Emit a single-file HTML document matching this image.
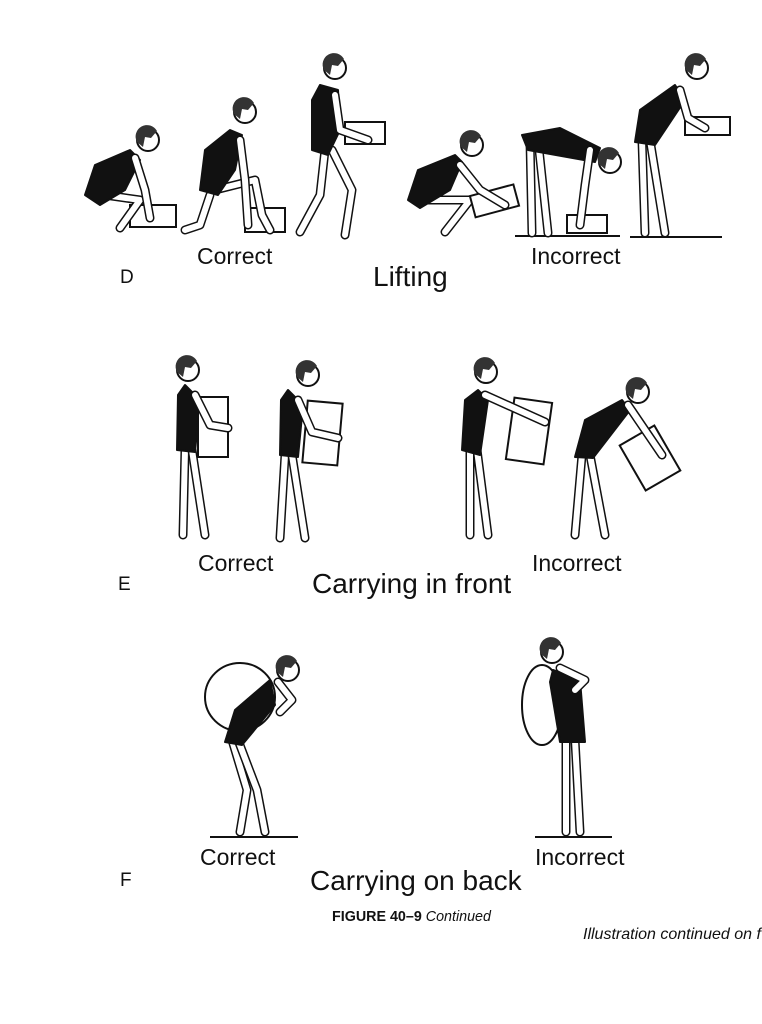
<!DOCTYPE html>
<html><head><meta charset="utf-8"><style>
html,body{margin:0;padding:0;background:#fff;}
body{width:762px;height:1024px;position:relative;overflow:hidden;font-family:"Liberation Sans",sans-serif;color:#111;}
.t{position:absolute;white-space:nowrap;line-height:1;}
svg{position:absolute;left:0;top:0;}
.lo{fill:none;stroke:#111;stroke-width:9;stroke-linecap:round;stroke-linejoin:round;}
.li{fill:none;stroke:#fff;stroke-width:6;stroke-linecap:round;stroke-linejoin:round;}
.tor{fill:#111;stroke:#111;stroke-width:2;stroke-linejoin:round;}
.hd{fill:#fff;stroke:#111;stroke-width:2;}
.hr{fill:#333;}
.bx{fill:#fff;stroke:#111;stroke-width:2;}
.fl{stroke:#111;stroke-width:2;}
</style></head><body>
<svg width="762" height="1024" viewBox="0 0 762 1024">
<defs>
<g id="h"><circle class="hd" r="11"/><path class="hr" d="M-11,2 A11,11 0 0 1 9,-9 L3,-2 L-3,-3 L-5,7 Z"/></g>
</defs>
<!-- D1 -->
<rect class="bx" x="130" y="205" width="46" height="22"/>
<path class="lo" d="M105,195 L140,200 L120,228"/><path class="li" d="M105,195 L140,200 L120,228"/>
<polygon class="tor" points="130,150 95,165 85,195 100,205 125,190 140,160"/>
<path class="lo" d="M135,158 L145,190 L150,218"/><path class="li" d="M135,158 L145,190 L150,218"/>
<use href="#h" x="148" y="140"/>
<!-- D2 -->
<rect class="bx" x="245" y="208" width="40" height="24"/>
<path class="lo" d="M210,195 L200,225 L185,230"/><path class="li" d="M210,195 L200,225 L185,230"/>
<path class="lo" d="M215,190 L255,180 L262,215 L270,230"/><path class="li" d="M215,190 L255,180 L262,215 L270,230"/>
<polygon class="tor" points="230,130 205,150 200,190 218,195 235,170 242,135"/>
<path class="lo" d="M240,140 L245,180 L248,225"/><path class="li" d="M240,140 L245,180 L248,225"/>
<use href="#h" x="245" y="112"/>
<!-- D3 -->
<path class="lo" d="M325,150 L320,195 L300,232"/><path class="li" d="M325,150 L320,195 L300,232"/>
<path class="lo" d="M332,150 L352,190 L345,235"/><path class="li" d="M332,150 L352,190 L345,235"/>
<polygon class="tor" points="320,85 312,100 312,150 328,155 340,130 338,90"/>
<rect class="bx" x="345" y="122" width="40" height="22"/>
<path class="lo" d="M335,95 L340,130 L368,140"/><path class="li" d="M335,95 L340,130 L368,140"/>
<use href="#h" x="335" y="68"/>
<!-- D4 -->
<path class="lo" d="M425,200 L470,200 L445,232"/><path class="li" d="M425,200 L470,200 L445,232"/>
<polygon class="tor" points="455,155 418,170 408,200 420,208 450,190 462,162"/>
<rect class="bx" x="472" y="190" width="45" height="22" transform="rotate(-15 494 201)"/>
<path class="lo" d="M460,165 L480,190 L505,205"/><path class="li" d="M460,165 L480,190 L505,205"/>
<use href="#h" x="472" y="145"/>
<!-- D5 -->
<line class="fl" x1="515" y1="236" x2="620" y2="236"/>
<rect class="bx" x="567" y="215" width="40" height="18"/>
<path class="lo" d="M530,140 L532,233"/><path class="li" d="M530,140 L532,233"/>
<path class="lo" d="M538,140 L548,233"/><path class="li" d="M538,140 L548,233"/>
<polygon class="tor" points="522,135 528,150 595,162 600,148 560,128"/>
<path class="lo" d="M590,150 L585,185 L580,225"/><path class="li" d="M590,150 L585,185 L580,225"/>
<use href="#h" x="610" y="162"/>
<!-- D6 -->
<line class="fl" x1="630" y1="237" x2="722" y2="237"/>
<path class="lo" d="M642,140 L645,233"/><path class="li" d="M642,140 L645,233"/>
<path class="lo" d="M650,140 L665,233"/><path class="li" d="M650,140 L665,233"/>
<polygon class="tor" points="675,85 640,110 635,142 655,145 685,100"/>
<rect class="bx" x="685" y="117" width="45" height="18"/>
<path class="lo" d="M680,90 L688,118 L705,128"/><path class="li" d="M680,90 L688,118 L705,128"/>
<use href="#h" x="697" y="68"/>

<!-- E1 -->
<path class="lo" d="M185,450 L183,535"/><path class="li" d="M185,450 L183,535"/>
<path class="lo" d="M192,450 L205,535"/><path class="li" d="M192,450 L205,535"/>
<polygon class="tor" points="185,385 178,395 177,450 195,452 200,400"/>
<rect class="bx" x="198" y="397" width="30" height="60"/>
<path class="lo" d="M195,395 L210,425 L228,428"/><path class="li" d="M195,395 L210,425 L228,428"/>
<use href="#h" x="188" y="370"/>
<!-- E2 -->
<path class="lo" d="M285,455 L280,538"/><path class="li" d="M285,455 L280,538"/>
<path class="lo" d="M292,455 L305,538"/><path class="li" d="M292,455 L305,538"/>
<polygon class="tor" points="288,390 281,400 280,455 298,457 303,405"/>
<rect class="bx" x="305" y="402" width="35" height="62" transform="rotate(5 322 433)"/>
<path class="lo" d="M298,400 L312,432 L338,438"/><path class="li" d="M298,400 L312,432 L338,438"/>
<use href="#h" x="308" y="375"/>
<!-- E3 -->
<path class="lo" d="M470,450 L470,535"/><path class="li" d="M470,450 L470,535"/>
<path class="lo" d="M477,450 L488,535"/><path class="li" d="M477,450 L488,535"/>
<polygon class="tor" points="478,390 465,400 462,450 480,455 488,400"/>
<rect class="bx" x="510" y="400" width="38" height="62" transform="rotate(8 529 431)"/>
<path class="lo" d="M485,395 L545,422"/><path class="li" d="M485,395 L545,422"/>
<use href="#h" x="486" y="372"/>
<!-- E4 -->
<path class="lo" d="M582,455 L575,535"/><path class="li" d="M582,455 L575,535"/>
<path class="lo" d="M590,455 L605,535"/><path class="li" d="M590,455 L605,535"/>
<polygon class="tor" points="622,400 585,420 575,457 593,458 630,410"/>
<rect class="bx" x="630" y="432" width="40" height="52" transform="rotate(-30 650 458)"/>
<path class="lo" d="M628,405 L662,455"/><path class="li" d="M628,405 L662,455"/>
<use href="#h" x="638" y="392"/>

<!-- F1 -->
<line class="fl" x1="210" y1="837" x2="298" y2="837"/>
<ellipse class="bx" cx="240" cy="697" rx="35" ry="34"/>
<path class="lo" d="M232,740 L247,790 L240,832"/><path class="li" d="M232,740 L247,790 L240,832"/>
<path class="lo" d="M238,740 L257,790 L265,832"/><path class="li" d="M238,740 L257,790 L265,832"/>
<polygon class="tor" points="270,680 235,710 225,742 242,745 275,705"/>
<path class="lo" d="M278,682 L292,700 L280,712"/><path class="li" d="M278,682 L292,700 L280,712"/>
<use href="#h" x="288" y="670"/>
<!-- F2 -->
<line class="fl" x1="535" y1="837" x2="612" y2="837"/>
<ellipse class="bx" cx="542" cy="705" rx="20" ry="40"/>
<path class="lo" d="M566,740 L566,832"/><path class="li" d="M566,740 L566,832"/>
<path class="lo" d="M575,740 L580,832"/><path class="li" d="M575,740 L580,832"/>
<polygon class="tor" points="553,670 550,682 560,742 585,742 580,680"/>
<path class="lo" d="M560,668 L585,680 L575,690"/><path class="li" d="M560,668 L585,680 L575,690"/>
<use href="#h" x="552" y="652"/>
</svg>

<div class="t" style="left:197px;top:245px;font-size:23px;">Correct</div>
<div class="t" style="left:120px;top:268px;font-size:19px;">D</div>
<div class="t" style="left:373px;top:263px;font-size:28px;">Lifting</div>
<div class="t" style="left:531px;top:245px;font-size:23px;">Incorrect</div>

<div class="t" style="left:198px;top:552px;font-size:23px;">Correct</div>
<div class="t" style="left:118px;top:575px;font-size:19px;">E</div>
<div class="t" style="left:312px;top:570px;font-size:28px;">Carrying in front</div>
<div class="t" style="left:532px;top:552px;font-size:23px;">Incorrect</div>

<div class="t" style="left:200px;top:846px;font-size:23px;">Correct</div>
<div class="t" style="left:120px;top:871px;font-size:19px;">F</div>
<div class="t" style="left:310px;top:867px;font-size:28px;">Carrying on back</div>
<div class="t" style="left:535px;top:846px;font-size:23px;">Incorrect</div>

<div class="t" style="left:332px;top:910px;font-size:14.3px;font-weight:bold;">FIGURE 40–9 <span style="font-weight:normal;font-style:italic;">Continued</span></div>
<div class="t" style="left:583px;top:927px;font-size:16px;font-style:italic;">Illustration continued on f</div>
</body></html>
